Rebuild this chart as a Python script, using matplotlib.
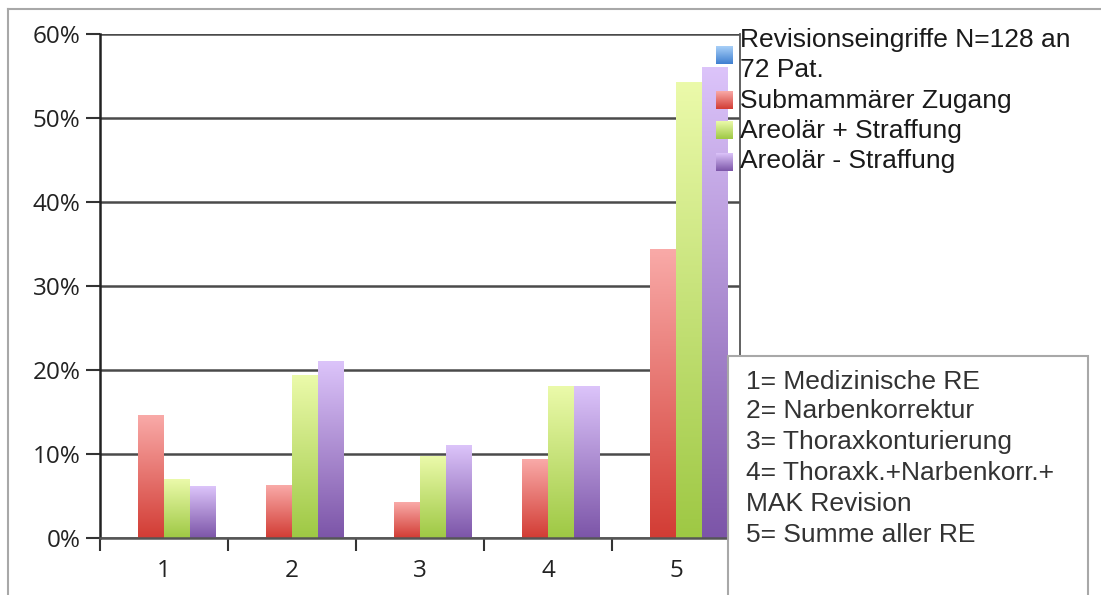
import numpy as np
import matplotlib
matplotlib.use("Agg")
import matplotlib.pyplot as plt
from matplotlib.colors import LinearSegmentedColormap
from matplotlib.patches import Rectangle
from matplotlib.lines import Line2D

# Data: share of revision procedures per category (fraction)
categories = ["1", "2", "3", "4", "5"]
series_names = ["Revisionseingriffe N=128 an\n72 Pat.",
                "Submammärer Zugang",
                "Areolär + Straffung",
                "Areolär - Straffung"]
revision_total = [0.0, 0.0, 0.0, 0.0, 0.0]
submammaer = [0.146, 0.063, 0.042, 0.094, 0.344]
areolaer_plus = [0.070, 0.194, 0.097, 0.180, 0.542]
areolaer_minus = [0.061, 0.210, 0.110, 0.180, 0.560]
series_values = [revision_total, submammaer, areolaer_plus, areolaer_minus]
y_ticks = [0.0, 0.1, 0.2, 0.3, 0.4, 0.5, 0.6]
category_notes = ["1= Medizinische RE",
                  "2= Narbenkorrektur",
                  "3= Thoraxkonturierung",
                  "4= Thoraxk.+Narbenkorr.+",
                  "MAK Revision",
                  "5= Summe aller RE"]

# Gradient colours (bottom, top) per series
gradients = [("#3f7fd0", "#a8d0f8"),
             ("#d23c34", "#f9aaa8"),
             ("#9ec844", "#ebfaaa"),
             ("#7c55a8", "#dcc4fa")]

W, H = 1101, 595
fig = plt.figure(figsize=(W / 100, H / 100), dpi=100)
fig.patch.set_facecolor("white")


def fx(px):
    return px / W


def fy(py):
    return 1 - py / H


ax = fig.add_axes([fx(100), fy(538), fx(740) - fx(100), fy(34) - fy(538)])
ax.set_facecolor("white")

n_series = len(series_values)
bar_w = 0.2
x = np.arange(1, len(categories) + 1)
grad = np.linspace(0, 1, 256).reshape(-1, 1)

for i, vals in enumerate(series_values):
    offs = (i - (n_series - 1) / 2) * bar_w
    bars = ax.bar(x + offs, vals, width=bar_w, color="none", edgecolor="none", zorder=2)
    cmap = LinearSegmentedColormap.from_list(f"g{i}", list(gradients[i]))
    for p in bars:
        h = p.get_height()
        if h <= 0:
            continue
        x0 = p.get_x()
        ax.imshow(grad, extent=(x0, x0 + p.get_width(), 0, h), origin="lower",
                  aspect="auto", cmap=cmap, zorder=2, interpolation="bilinear")

ax.set_xlim(0.5, len(categories) + 0.5)
ax.set_ylim(0, 0.6)

# Axes styling
ax.set_yticks(y_ticks)
ax.set_yticklabels([f"{int(round(t * 100))}%" for t in y_ticks],
                   fontfamily="Open Sans", fontsize=17.5, color="#222222")
ax.yaxis.grid(True, color="#4a4a4a", linewidth=1.8, zorder=1)
ax.set_axisbelow(True)
ax.tick_params(axis="y", length=10, width=1.5, color="#333333", pad=4)

ax.set_xticks(x)
ax.set_xticklabels(categories, fontfamily="Open Sans", fontsize=17.5, color="#222222")
ax.set_xticks(np.arange(0.5, len(categories) + 1), minor=True)
ax.tick_params(axis="x", which="major", length=0, pad=15)
ax.tick_params(axis="x", which="minor", length=9, width=1.5, color="#333333")

for side in ["top", "right"]:
    ax.spines[side].set_visible(False)
ax.spines["left"].set_color("#222222")
ax.spines["left"].set_linewidth(1.8)
ax.spines["bottom"].set_color("#555555")
ax.spines["bottom"].set_linewidth(1.8)

# Outer frame of the chart area
fig.add_artist(Line2D([fx(8), 1], [fy(9), fy(9)], color="#a8a8a8", lw=1.5))
fig.add_artist(Line2D([fx(8), fx(8)], [fy(9), 0], color="#a8a8a8", lw=1.5))

# Legend frame edge
fig.add_artist(Line2D([fx(740), fx(740)], [fy(34), fy(356)], color="#555555", lw=1.3))

# Legend entries: gradient swatch + label
legend_font = dict(fontfamily="Liberation Sans", fontsize=19, color="#1a1a1a",
                   va="center", ha="left")
swatch_y = [55, 100, 130, 162]
label_y = [[40, 70], [101], [131], [161]]
for i, name in enumerate(series_names):
    sax = fig.add_axes([fx(716), fy(swatch_y[i] + 9), fx(17), 18 / H])
    cmap = LinearSegmentedColormap.from_list(f"l{i}", list(gradients[i]))
    sax.imshow(grad, origin="lower", aspect="auto", cmap=cmap, interpolation="bilinear")
    sax.axis("off")
    for line, yy in zip(name.split("\n"), label_y[i]):
        fig.text(fx(740), fy(yy), line, **legend_font)

# Category explanation box
fig.add_artist(Rectangle((fx(728), fy(600)), fx(1088) - fx(728), fy(356) - fy(600),
                         transform=fig.transFigure, facecolor="white",
                         edgecolor="#a8a8a8", lw=1.5, zorder=5))
note_y = [382, 411, 442, 473, 504, 535]
for yy, txt in zip(note_y, category_notes):
    fig.text(fx(746), fy(yy), txt, fontfamily="Liberation Sans", fontsize=19,
             color="#333333", va="center", ha="left", zorder=6)

fig.savefig("out.png", dpi=100)
